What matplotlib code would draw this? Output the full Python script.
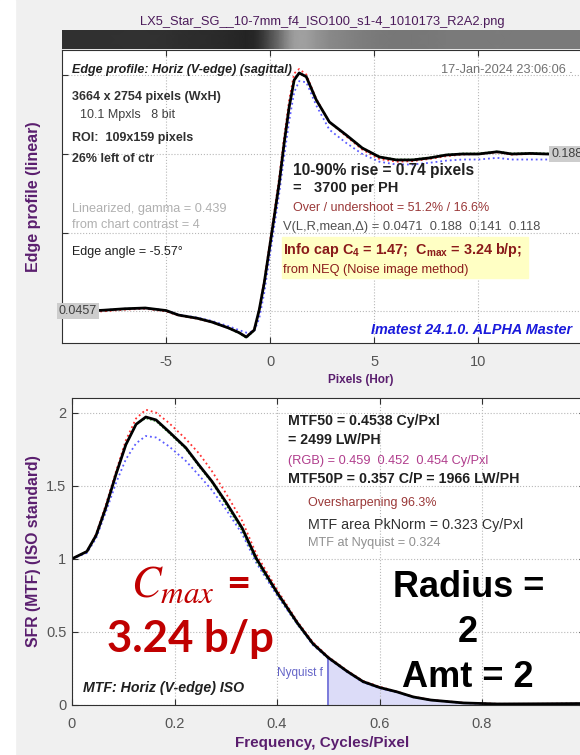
import matplotlib
matplotlib.use("Agg")
import matplotlib.pyplot as plt
from matplotlib.patches import Rectangle
import numpy as np

plt.rcParams['font.family'] = ['Liberation Sans', 'DejaVu Sans']
plt.rcParams['axes.unicode_minus'] = False
plt.rcParams['mathtext.fontset'] = 'custom'
plt.rcParams['mathtext.rm'] = 'Liberation Sans'
plt.rcParams['mathtext.bf'] = 'Liberation Sans:bold'
plt.rcParams['mathtext.it'] = 'Liberation Sans:italic'

W, H = 580, 755

# ---- edge profile (upper plot) ----
edge_x = [-10, -9, -8, -7, -6, -5, -4.4, -3.5, -2.8, -2.0, -1.5, -1.15, -0.77, -0.53,
          -0.29, -0.05, 0.19, 0.43, 0.67, 0.91, 1.15, 1.39, 1.73, 2.21, 2.84, 3.65,
          4.42, 5.24, 6.06, 6.83, 7.64, 8.46, 9.23, 10.0, 10.9, 11.6, 12.5, 13.3, 14.4, 15.5]
edge_k = [0.0457, 0.0455, 0.0465, 0.0478, 0.0485, 0.0462, 0.0421, 0.0392, 0.0358, 0.0304,
          0.0262, 0.0222, 0.0285, 0.0467, 0.0711, 0.1010, 0.1310, 0.1617, 0.1980, 0.2306,
          0.2550, 0.2614, 0.2580, 0.2370, 0.2170, 0.2052, 0.1934, 0.1853, 0.1826, 0.1826,
          0.1844, 0.1871, 0.1880, 0.1880, 0.1900, 0.1880, 0.1885, 0.1880, 0.1880, 0.1880]
edge_r = [0.0452, 0.0448, 0.0455, 0.0470, 0.0478, 0.0455, 0.0415, 0.0388, 0.0355, 0.0303,
          0.0262, 0.0225, 0.0290, 0.0480, 0.0730, 0.1040, 0.1350, 0.1670, 0.2040, 0.2370,
          0.2610, 0.2650, 0.2600, 0.2380, 0.2170, 0.2040, 0.1920, 0.1835, 0.1810, 0.1815,
          0.1835, 0.1860, 0.1875, 0.1880, 0.1895, 0.1875, 0.1880, 0.1880, 0.1880, 0.1880]
edge_g = [0.0458, 0.0456, 0.0466, 0.0479, 0.0486, 0.0463, 0.0420, 0.0390, 0.0355, 0.0300,
          0.0255, 0.0212, 0.0280, 0.0465, 0.0710, 0.1010, 0.1310, 0.1615, 0.1975, 0.2300,
          0.2545, 0.2610, 0.2578, 0.2368, 0.2170, 0.2055, 0.1938, 0.1858, 0.1832, 0.1832,
          0.1850, 0.1877, 0.1886, 0.1886, 0.1905, 0.1886, 0.1890, 0.1886, 0.1886, 0.1886]
edge_b = [0.0460, 0.0458, 0.0466, 0.0478, 0.0483, 0.0463, 0.0425, 0.0398, 0.0368, 0.0320,
          0.0285, 0.0262, 0.0275, 0.0390, 0.0620, 0.0920, 0.1220, 0.1520, 0.1860, 0.2180,
          0.2440, 0.2540, 0.2530, 0.2320, 0.2100, 0.1980, 0.1880, 0.1810, 0.1785, 0.1785,
          0.1800, 0.1820, 0.1830, 0.1830, 0.1845, 0.1830, 0.1830, 0.1830, 0.1830, 0.1830]
edge_ticks = [0.0457, 0.1168, 0.188, 0.2592]
edge_xticks = [-5, 0, 5, 10, 15]
edge_xlabels = ['-5', '0', '5', '10', '']
edge_left, edge_right = 0.0457, 0.188

# ---- MTF (lower plot) ----
mtf_f = [0, 0.029, 0.047, 0.066, 0.086, 0.105, 0.125, 0.144, 0.164, 0.189, 0.222, 0.248,
         0.273, 0.30, 0.332, 0.36, 0.40, 0.44, 0.47, 0.50, 0.537, 0.568, 0.60, 0.634,
         0.666, 0.70, 0.764, 0.83, 0.90, 1.0]
mtf_k = [1.0, 1.05, 1.16, 1.35, 1.58, 1.78, 1.92, 1.97, 1.95, 1.87, 1.76, 1.64, 1.53, 1.39,
         1.21, 1.0, 0.77, 0.56, 0.42, 0.324, 0.23, 0.16, 0.12, 0.09, 0.055, 0.034, 0.014,
         0.007, 0.008, 0.01]
mtf_r = [1.0, 1.05, 1.17, 1.37, 1.60, 1.81, 1.96, 2.02, 2.00, 1.93, 1.82, 1.72, 1.60, 1.45,
         1.26, 1.03, 0.79, 0.57, 0.43, 0.33, 0.235, 0.165, 0.125, 0.092, 0.057, 0.035,
         0.015, 0.008, 0.008, 0.01]
mtf_g = [1.0, 1.05, 1.16, 1.35, 1.58, 1.78, 1.92, 1.96, 1.94, 1.86, 1.75, 1.63, 1.52, 1.37,
         1.19, 0.98, 0.76, 0.55, 0.415, 0.32, 0.228, 0.158, 0.118, 0.089, 0.054, 0.033,
         0.014, 0.007, 0.008, 0.01]
mtf_b = [1.0, 1.04, 1.14, 1.32, 1.52, 1.68, 1.79, 1.84, 1.83, 1.77, 1.67, 1.57, 1.47, 1.34,
         1.17, 0.97, 0.75, 0.55, 0.41, 0.318, 0.225, 0.155, 0.115, 0.087, 0.053, 0.033,
         0.013, 0.006, 0.007, 0.009]
mtf_xticks = [0, 0.2, 0.4, 0.6, 0.8, 1.0]
mtf_xlabels = ['0', '0.2', '0.4', '0.6', '0.8', '']
mtf_yticks = [0, 0.5, 1, 1.5, 2]
mtf_ylabels = ['0', '0.5', '1', '1.5', '2']
nyquist = 0.5

PURPLE = '#5a1e6e'
TICKC = '#555555'


def fx(px):
    return px / W


def fy(py):
    return 1 - py / H


def style_axes(ax):
    ax.set_facecolor('white')
    for s in ax.spines.values():
        s.set_color('#303030')
        s.set_linewidth(0.8)
    ax.tick_params(direction='in', length=4, width=0.8, top=True, right=True,
                   colors='#303030', labelcolor=TICKC, labelsize=10.5)
    ax.tick_params(axis='x', pad=9)
    ax.tick_params(axis='y', pad=4)
    ax.grid(True, linestyle=':', color='#b8b8b8', linewidth=0.8)


fig = plt.figure(figsize=(W / 100, H / 100), dpi=100, facecolor='#f0f0f0')
fig.patches.append(Rectangle((0, 0), fx(15), 1, transform=fig.transFigure,
                             color='white', zorder=-5))

fig.text(fx(322), fy(22), 'LX5_Star_SG__10-7mm_f4_ISO100_s1-4_1010173_R2A2.png',
         ha='center', va='center', fontsize=9.3, color='#4b1a5a')

# ---------- upper: edge profile ----------
ax1 = fig.add_axes([fx(62), fy(343), fx(593) - fx(62), (343 - 50) / H])
style_axes(ax1)
ax1.plot(edge_x, edge_r, ':', color='#ff3030', lw=1.3)
ax1.plot(edge_x, edge_b, ':', color='#5a5aff', lw=1.3)
ax1.plot(edge_x, edge_g, ':', color='#20a020', lw=1.0)
ax1.plot(edge_x, edge_k, '-', color='black', lw=2.0)
ax1.set_xlim(-10, 15.5)
ax1.set_ylim(0.0168, 0.2822)
ax1.set_xticks(edge_xticks)
ax1.set_xticklabels(edge_xlabels)
ax1.set_yticks(edge_ticks)
ax1.set_yticklabels([])
ax1.text(-10.15, edge_left, f'{edge_left:.4f}', ha='left', va='center', fontsize=9,
         color='#404040', bbox=dict(fc='#cdcdcd', ec='none', pad=1.5), clip_on=False)
ax1.text(13.5, edge_right, f'{edge_right:.3f}', ha='left', va='center', fontsize=9,
         color='#404040', bbox=dict(fc='#cdcdcd', ec='none', pad=1.5), clip_on=False)

# strip image of the edge above the plot
axs = fig.add_axes([fx(62), fy(49), fx(593) - fx(62), 19 / H])
X, Y = np.meshgrid(edge_x, [0, 1])
C = np.vstack([edge_k, edge_k])
axs.pcolormesh(X, Y, C, cmap='gray', vmin=-0.047, vmax=0.444, shading='gouraud')
axs.set_xlim(-10, 15.5)
axs.set_ylim(0, 1)
axs.axis('off')

fig.text(fx(361), fy(380), 'Pixels (Hor)', ha='center', va='center', fontsize=8.5,
         fontweight='bold', color=PURPLE)
fig.text(fx(34), fy(197), 'Edge profile (linear)', ha='center', va='center', rotation=90,
         fontsize=11.5, fontweight='bold', color=PURPLE)

fig.text(fx(72), fy(70), 'Edge profile: Horiz (V-edge) (sagittal)', fontsize=9,
         fontweight='bold', fontstyle='italic', va='center', color='#202020')
fig.text(fx(72), fy(97), '3664 x 2754 pixels (WxH)', fontsize=9, fontweight='bold',
         va='center', color='#303030')
fig.text(fx(80), fy(115), '10.1 Mpxls   8 bit', fontsize=9, va='center', color='#404040')
fig.text(fx(72), fy(138), 'ROI:  109x159 pixels', fontsize=9, fontweight='bold',
         va='center', color='#303030')
fig.text(fx(72), fy(159), '26% left of ctr', fontsize=9, fontweight='bold',
         va='center', color='#303030')
fig.text(fx(72), fy(209), 'Linearized, gamma = 0.439', fontsize=9.2, va='center',
         color='#b0b0b0')
fig.text(fx(72), fy(225), 'from chart contrast = 4', fontsize=9.2, va='center',
         color='#b0b0b0')
fig.text(fx(72), fy(252), 'Edge angle = -5.57°', fontsize=9, va='center', color='#202020')
fig.text(fx(573), fy(70), '17-Jan-2024 23:06:06 .', fontsize=9.2, ha='right', va='center',
         color='#707070')

fig.text(fx(293), fy(170), '10-90% rise = 0.74 pixels', fontsize=11.2, fontweight='bold',
         va='center', color='#202020')
fig.text(fx(293), fy(188), '=   3700 per PH', fontsize=10.5, fontweight='bold',
         va='center', color='#202020')
fig.text(fx(293), fy(208), 'Over / undershoot = 51.2% / 16.6%', fontsize=9, va='center',
         color='#9a3838')
fig.text(fx(283), fy(227), 'V(L,R,mean,Δ) = 0.0471  0.188  0.141  0.118', fontsize=9.3,
         va='center', color='#505050')
fig.patches.append(Rectangle((fx(282), fy(278)), fx(528) - fx(282), (278 - 237) / H,
                             transform=fig.transFigure, color='#ffffc4', zorder=2))
fig.text(fx(283), fy(250), r'Info cap $\mathbf{C}_\mathbf{4}$ = 1.47;  '
         r'$\mathbf{C}_\mathbf{max}$ = 3.24 b/p;', fontsize=10.4, fontweight='bold',
         va='center', color='#8a1a1a', zorder=3)
fig.text(fx(283), fy(270), 'from NEQ (Noise image method)', fontsize=9.2, va='center',
         color='#8a1a1a', zorder=3)
fig.text(fx(572), fy(330), 'Imatest 24.1.0. ALPHA Master', fontsize=10.4, fontweight='bold',
         fontstyle='italic', ha='right', va='center', color='#1a1adc')

# ---------- lower: MTF ----------
ax2 = fig.add_axes([fx(72), fy(705), fx(584.5) - fx(72), (705 - 398) / H])
style_axes(ax2)
f_arr = np.array(mtf_f)
k_arr = np.array(mtf_k)
sel = f_arr >= nyquist
ax2.fill_between(f_arr[sel], 0, k_arr[sel], color='#dcdcf8', lw=0)
ax2.vlines(nyquist, 0, mtf_k[mtf_f.index(nyquist)], color='#7070d8', lw=1.3)
ax2.plot(mtf_f, mtf_r, ':', color='#ff3030', lw=1.3)
ax2.plot(mtf_f, mtf_b, ':', color='#5a5aff', lw=1.3)
ax2.plot(mtf_f, mtf_g, ':', color='#20a020', lw=1.0)
ax2.plot(mtf_f, mtf_k, '-', color='black', lw=2.0)
ax2.set_xlim(0, 1.0)
ax2.set_ylim(0, 2.10)
ax2.set_xticks(mtf_xticks)
ax2.set_xticklabels(mtf_xlabels)
ax2.set_yticks(mtf_yticks)
ax2.set_yticklabels(mtf_ylabels)

fig.text(fx(322), fy(743), 'Frequency, Cycles/Pixel', ha='center', va='center',
         fontsize=11, fontweight='bold', color=PURPLE)
fig.text(fx(34), fy(551), 'SFR (MTF) (ISO standard)', ha='center', va='center',
         rotation=90, fontsize=11.3, fontweight='bold', color=PURPLE)

fig.text(fx(288), fy(421), 'MTF50 = 0.4538 Cy/Pxl', fontsize=10.2, fontweight='bold',
         va='center', color='#202020')
fig.text(fx(288), fy(440), '= 2499 LW/PH', fontsize=10.2, fontweight='bold',
         va='center', color='#202020')
fig.text(fx(288), fy(461), '(RGB) = 0.459  0.452  0.454 Cy/Pxl', fontsize=9.2,
         va='center', color='#b03c8c')
fig.text(fx(288), fy(479), 'MTF50P = 0.357 C/P = 1966 LW/PH', fontsize=10.3,
         fontweight='bold', va='center', color='#202020')
fig.text(fx(308), fy(503), 'Oversharpening 96.3%', fontsize=9, va='center', color='#9a3838')
fig.text(fx(308), fy(525), 'MTF area PkNorm = 0.323 Cy/Pxl', fontsize=10.3, va='center',
         color='#303030')
fig.text(fx(308), fy(543), 'MTF at Nyquist = 0.324', fontsize=9.2, va='center',
         color='#909090')
fig.text(fx(323), fy(673), 'Nyquist f', fontsize=8.5, ha='right', va='center',
         color='#6464c8')
fig.text(fx(83), fy(688), 'MTF: Horiz (V-edge) ISO', fontsize=10.2, fontweight='bold',
         fontstyle='italic', va='center', color='#202020')

RED = '#c00000'
fig.text(fx(131), fy(597), r'$C_{max}$', math_fontfamily='stix', fontsize=32,
         color=RED, va='baseline')
fig.text(fx(250), fy(597), '=', fontsize=30, fontweight='bold', family='Lato',
         color=RED, ha='right', va='baseline')
fig.text(fx(190), fy(652), '3.24 b/p', fontsize=31.5, fontweight='bold', family='Lato',
         color=RED, ha='center', va='baseline')

fig.text(fx(469), fy(597), 'Radius =', fontsize=26, fontweight='bold', ha='center',
         va='baseline', color='black')
fig.text(fx(468), fy(642), '2', fontsize=26, fontweight='bold', ha='center',
         va='baseline', color='black')
fig.text(fx(468), fy(687), 'Amt = 2', fontsize=26, fontweight='bold', ha='center',
         va='baseline', color='black')

fig.savefig('out.png', dpi=100, facecolor=fig.get_facecolor())
